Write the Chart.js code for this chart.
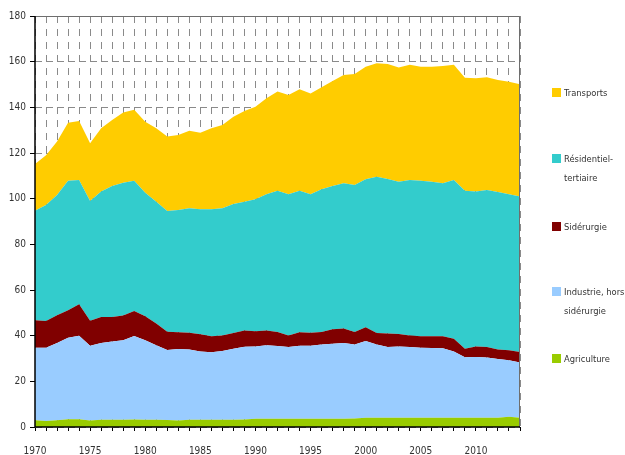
<!DOCTYPE html>
<html>
<head>
<meta charset="utf-8">
<script src="https://cdn.jsdelivr.net/npm/chart.js@4"></script>
<style>
  html, body { margin: 0; padding: 0; background: #fff; }
  #wrap { position: relative; width: 625px; height: 455px; }
  #wrap canvas { position: absolute; left: 0; top: 0; }
  .lg { position: absolute; left: 552px; font: 9.3px "Liberation Sans Narrow", "DejaVu Sans Condensed", sans-serif; color: #333; line-height: 19px; }
  .lg i { position: absolute; left: 0; top: 5px; width: 9px; height: 9px; }
  .lg span { display: block; margin-left: 12px; white-space: nowrap; }
</style>
</head>
<body>
<div id="wrap">
  <canvas id="chart" width="625" height="455"></canvas>
</div>
<script>
// années
const years = [];
for (let y = 1970; y <= 2014; y++) years.push(String(y));

const yTicks = [0, 20, 40, 60, 80, 100, 120, 140, 160, 180];

// séries (empilées dans cet ordre)
const agriculture = [
  3.0, 2.6, 3.0, 3.4, 3.4, 2.9, 3.2, 3.2, 3.2, 3.3,
  3.2, 3.2, 3.1, 2.8, 3.2, 3.2, 3.2, 3.2, 3.2, 3.3,
  3.6, 3.6, 3.6, 3.6, 3.6, 3.6, 3.6, 3.6, 3.6, 3.7,
  4.0, 4.0, 4.0, 4.0, 4.0, 4.0, 4.0, 4.0, 4.0, 4.0,
  4.0, 4.0, 4.1, 4.5, 4.1
];
const industrie = [
  31.7, 32.1, 33.8, 35.7, 36.6, 32.7, 33.6, 34.3, 34.8, 36.5,
  34.8, 32.6, 30.6, 31.4, 30.7, 29.9, 29.5, 30.1, 31.1, 31.8,
  31.7, 32.2, 31.9, 31.4, 32.0, 32.0, 32.5, 32.9, 33.2, 32.4,
  33.7, 32.1, 31.0, 31.3, 31.0, 30.7, 30.6, 30.5, 29.1, 26.6,
  26.7, 26.4, 25.7, 24.7, 24.2
];
const siderurgie = [
  12.1, 11.7, 12.1, 12.0, 13.8, 10.9, 11.4, 10.7, 10.8, 11.0,
  10.5, 9.5, 8.0, 7.3, 7.4, 7.5, 7.0, 6.8, 6.9, 7.2,
  6.6, 6.5, 6.1, 5.1, 5.9, 5.7, 5.5, 6.3, 6.3, 5.5,
  6.0, 5.1, 5.9, 5.4, 5.1, 5.0, 5.1, 5.2, 5.6, 3.7,
  4.6, 4.6, 4.1, 4.4, 4.5
];
const residentiel = [
  47.9, 50.8, 52.7, 56.7, 54.4, 52.5, 54.9, 57.4, 58.2, 57.0,
  54.1, 53.4, 52.9, 53.5, 54.5, 54.8, 55.7, 55.7, 56.5, 56.4,
  57.8, 59.6, 61.9, 61.8, 62.0, 60.6, 62.5, 62.8, 63.6, 64.4,
  64.8, 68.4, 67.7, 66.7, 68.1, 68.2, 67.7, 67.0, 69.5, 69.2,
  67.8, 68.8, 69.0, 68.3, 68.1
];
const transports = [
  20.5, 21.8, 23.4, 25.5, 25.8, 25.3, 27.7, 28.9, 30.7, 31.1,
  31.1, 32.1, 32.6, 32.9, 33.9, 33.5, 35.4, 36.5, 38.2, 39.7,
  40.6, 42.1, 43.4, 43.5, 44.4, 44.2, 44.7, 45.9, 47.5, 48.6,
  49.3, 49.7, 50.4, 50.0, 50.4, 49.9, 50.4, 51.4, 50.4, 49.5,
  49.6, 49.4, 49.1, 49.3, 49.2
];

const seriesNames = ['Agriculture', 'Industrie, hors\nsidérurgie', 'Sidérurgie', 'Résidentiel-\ntertiaire', 'Transports'];
const seriesData = [agriculture, industrie, siderurgie, residentiel, transports];
const seriesColors = ['#99cc00', '#99ccff', '#800000', '#33cccc', '#ffcc00'];

const FONT = '"Liberation Sans Narrow", "DejaVu Sans Condensed", sans-serif';

// cadre du graphique : axes noirs, haut et droite gris
const framePlugin = {
  id: 'frame',
  afterDatasetsDraw(chart) {
    const { ctx, chartArea: a } = chart;
    ctx.save();
    ctx.lineWidth = 1;
    ctx.strokeStyle = '#6e6e6e';
    ctx.beginPath();
    ctx.moveTo(a.left, a.top + 0.5);
    ctx.lineTo(a.right - 0.5, a.top + 0.5);
    ctx.lineTo(a.right - 0.5, a.bottom);
    ctx.stroke();
    ctx.lineWidth = 1.5;
    ctx.strokeStyle = '#000';
    ctx.beginPath();
    ctx.moveTo(a.left, a.top);
    ctx.lineTo(a.left, a.bottom);
    ctx.lineTo(a.right, a.bottom);
    ctx.stroke();
    ctx.restore();
  }
};

const datasets = seriesData.map((data, i) => ({
  label: seriesNames[i].replace('\n', ' '),
  data: data,
  backgroundColor: seriesColors[i],
  borderWidth: 0,
  pointRadius: 0,
  tension: 0,
  fill: i === 0 ? 'origin' : '-1'
}));

new Chart(document.getElementById('chart'), {
  type: 'line',
  data: { labels: years, datasets: datasets },
  plugins: [framePlugin],
  options: {
    responsive: false,
    animation: false,
    layout: { padding: { top: 16, right: 105, left: 0, bottom: 0 } },
    plugins: { legend: { display: false }, tooltip: { enabled: false } },
    scales: {
      x: {
        type: 'category',
        offset: false,
        afterFit: (s) => { s.height = 28; },
        grid: {
          color: '#8a8a8a',
          lineWidth: 1,
          drawTicks: true,
          tickLength: 4,
          tickColor: '#000',
          tickBorderDash: []
        },
        border: { display: false, dash: [7, 6] },
        ticks: {
          autoSkip: false,
          maxRotation: 0,
          padding: 14,
          color: '#333',
          font: { family: FONT, size: 10 },
          callback: (v, i) => (Number(years[i]) % 5 === 0 ? years[i] : '')
        }
      },
      y: {
        stacked: true,
        min: 0,
        max: 180,
        afterFit: (s) => { s.width = 35; },
        afterBuildTicks: (s) => { s.ticks = yTicks.map(v => ({ value: v })); },
        grid: {
          color: '#8a8a8a',
          lineWidth: 1,
          drawTicks: true,
          tickLength: 5,
          tickColor: '#000',
          tickBorderDash: []
        },
        border: { display: false, dash: [7, 4] },
        ticks: {
          padding: 4,
          color: '#333',
          font: { family: FONT, size: 10 }
        }
      }
    }
  }
});

// légende à droite (ordre inverse de l'empilement)
const legendTops = [349, 282, 217, 149, 83];
const wrap = document.getElementById('wrap');
seriesNames.forEach((name, i) => {
  const d = document.createElement('div');
  d.className = 'lg';
  d.style.top = legendTops[i] + 'px';
  d.innerHTML = '<i style="background:' + seriesColors[i] + '"></i>' +
    name.split('\n').map(t => '<span>' + t + '</span>').join('');
  wrap.appendChild(d);
});
</script>
</body>
</html>
